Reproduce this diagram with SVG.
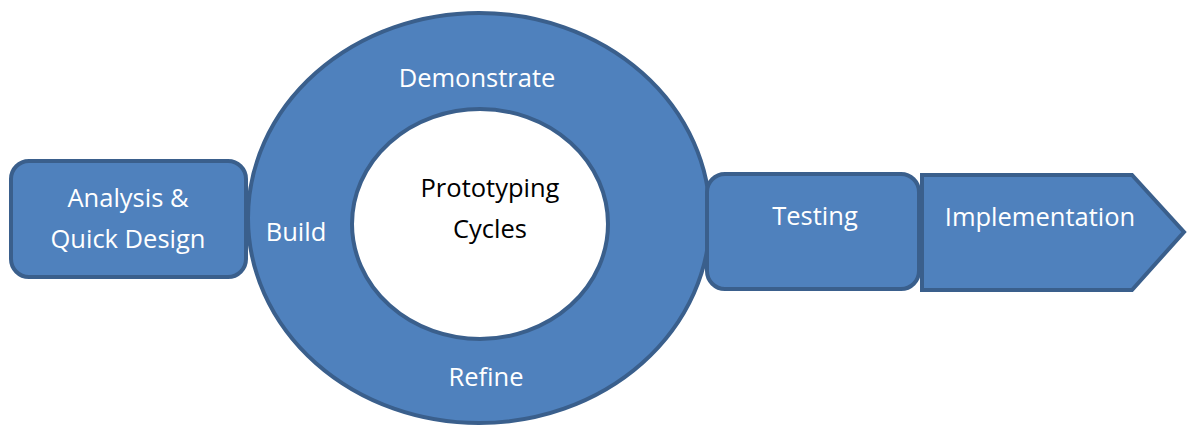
<svg xmlns="http://www.w3.org/2000/svg" width="1187" height="426" viewBox="0 0 1187 426">
  <style>
    .shape { fill: #4F81BD; stroke: #3A5F8C; stroke-width: 4; }
    .hole { fill: #FFFFFF; stroke: #3A5F8C; stroke-width: 4; }
    .lbl { font-family: "Open Sans", "Liberation Sans", sans-serif; font-size: 25.5px; fill: #FFFFFF; text-anchor: middle; }
    .dark { fill: #000000; }
  </style>
  <rect width="1187" height="426" fill="#FFFFFF"/>

  <!-- prototyping cycle ring -->
  <g id="cycle">
    <ellipse class="shape" cx="479" cy="218" rx="231" ry="205"/>
    <ellipse class="hole" cx="480" cy="224" rx="128" ry="115"/>
    <text class="lbl" x="477" y="87">Demonstrate</text>
    <text class="lbl" x="296" y="241">Build</text>
    <text class="lbl" x="486" y="386">Refine</text>
    <text class="lbl dark" x="490" y="197">Prototyping</text>
    <text class="lbl dark" x="490" y="238">Cycles</text>
  </g>

  <g id="analysis">
    <rect class="shape" x="11" y="161" width="235" height="116" rx="18"/>
    <text class="lbl" x="128" y="207">Analysis &amp;</text>
    <text class="lbl" x="128" y="248">Quick Design</text>
  </g>

  <g id="testing">
    <rect class="shape" x="707" y="174" width="212" height="115" rx="18"/>
    <text class="lbl" x="815" y="225">Testing</text>
  </g>

  <g id="implementation">
    <polygon class="shape" points="922,175 1132,175 1184,232 1132,290 922,290"/>
    <text class="lbl" x="1040" y="226">Implementation</text>
  </g>

  <g id="connectors"></g>
</svg>
